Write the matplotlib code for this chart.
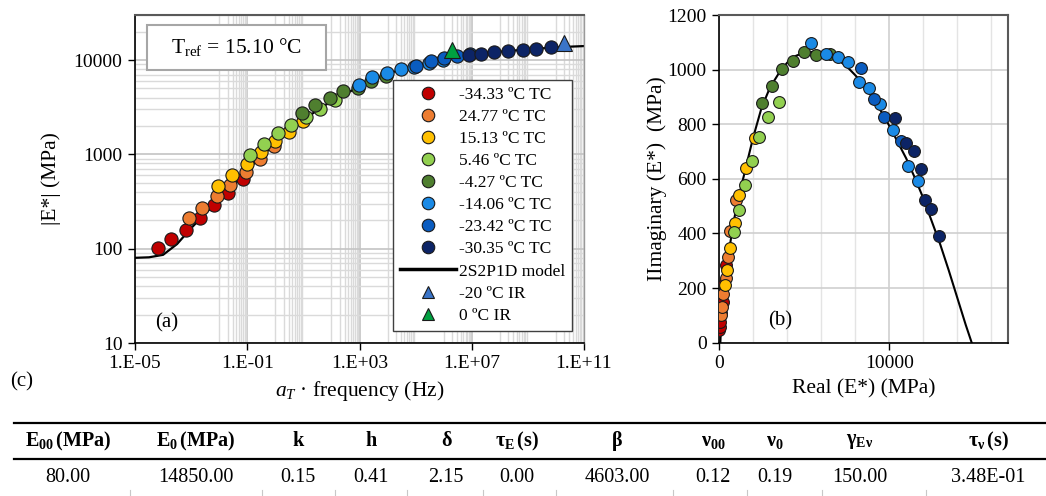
import numpy as np
import matplotlib
matplotlib.use('Agg')
import matplotlib.pyplot as plt
from matplotlib.lines import Line2D
from matplotlib.patches import Rectangle
from matplotlib.ticker import FixedLocator, LogLocator, NullFormatter, MultipleLocator

plt.rcParams['font.family'] = ['Liberation Serif', 'DejaVu Serif']
plt.rcParams['mathtext.fontset'] = 'custom'
plt.rcParams['mathtext.rm'] = 'Liberation Serif'
plt.rcParams['mathtext.it'] = 'Liberation Serif:italic'
plt.rcParams['mathtext.bf'] = 'Liberation Serif:bold'

# ---- data: master curve (reduced frequency in Hz, |E*| in MPa) ----
series_labels = ['-34.33 ºC TC', '24.77 ºC TC', '15.13 ºC TC', '5.46 ºC TC',
                 '-4.27 ºC TC', '-14.06 ºC TC', '-23.42 ºC TC', '-30.35 ºC TC']
series_colors = ['#c00000', '#ed7d31', '#ffc000', '#92d050',
                 '#4f7f2f', '#1a8ae6', '#0a5cc0', '#0c2466']

f_m34 = [6.8e-5, 1.95e-4, 6.5e-4, 2.0e-3, 6.6e-3, 2.05e-2, 6.8e-2]
e_m34 = [102, 127, 159, 209, 287, 391, 542]
f_p25 = [8.5e-4, 2.45e-3, 8.5e-3, 2.45e-2, 8.9e-2, 0.29, 0.91]
e_p25 = [209, 268, 360, 476, 655, 885, 1225]
f_p15 = [9.4e-3, 2.9e-2, 9.8e-2, 0.31, 0.96, 3.0, 9.8]
e_p15 = [457, 598, 798, 1050, 1399, 1743, 2261]
f_p5 = [0.128, 0.38, 1.25, 3.7, 12.8, 40.5, 139]
e_p5 = [984, 1300, 1673, 2070, 2518, 3048, 3727]
f_m4 = [9.0, 26.8, 90, 258, 850, 2470, 8500]
e_m4 = [2730, 3297, 3990, 4660, 5060, 6025, 6810]
f_m14 = [944, 2840, 9200, 29100, 9.1e4, 2.9e5, 9.1e5]
e_m14 = [5487, 6546, 7310, 8020, 8450, 9350, 10100]
f_m23 = [1.0e5, 3.45e5, 1.02e6, 3.1e6, 8.9e6]
e_m23 = [8690, 9680, 10420, 11120, 11500]
f_m30 = [7.9e6, 2.1e7, 6.3e7, 1.9e8, 6.5e8, 1.95e9, 6.6e9]
e_m30 = [11370, 11580, 12080, 12380, 12770, 13080, 13650]

f_ir_m20 = [1.98e10]
e_ir_m20 = [15100]
f_ir_0 = [2.05e6]
e_ir_0 = [12900]

# 2S2P1D model curve
f_model = [1e-5, 3.16e-5, 1e-4, 3.16e-4, 1e-3, 3.16e-3, 1e-2, 3.16e-2, 0.1, 0.316,
           1, 3.16, 10, 31.6, 100, 316, 1e3, 3.16e3, 1e4, 3.16e4, 1e5, 3.16e5,
           1e6, 3.16e6, 1e7, 3.16e7, 1e8, 3.16e8, 1e9, 3.16e9, 1e10, 3.16e10, 1e11]
e_model = [80, 81, 86, 112, 165, 235, 330, 470, 680, 950, 1300, 1750, 2300,
           2950, 3650, 4400, 5200, 6200, 7150, 7950, 8700, 9500, 10300, 11000,
           11500, 11900, 12250, 12600, 12950, 13300, 13600, 13850, 14050]

# ---- data: Cole-Cole (real / imaginary part of E*, MPa) ----
re_m34 = [18, 30, 59, 120, 217, 300, 393]
im_m34 = [46, 56, 75, 108, 150, 215, 285]
re_p25 = [100, 158, 252, 411, 546, 646, 1010]
im_p25 = [100, 132, 180, 237, 315, 408, 522]
re_p15 = [352, 487, 646, 920, 1200, 1610, 2114]
im_p15 = [211, 268, 348, 438, 541, 639, 749]
re_p5 = [870, 1174, 1500, 1940, 2349, 2895, 3523]
im_p5 = [405, 485, 577, 664, 754, 828, 880]
re_m4 = [2507, 3094, 3717, 4363, 5010, 5678, 6518]
im_m4 = [879, 940, 1001, 1033, 1063, 1054, 1057]
re_m14 = [5402, 6265, 6970, 7593, 8221, 8808, 9454, 10235, 11116, 11668]
im_m14 = [1096, 1057, 1045, 1027, 954, 932, 874, 779, 647, 593]
re_m23 = [8320, 9120, 9707, 10687]
im_m23 = [1007, 892, 828, 740]
re_m30 = [10335, 10963, 11450, 11844, 12096, 12449, 12937]
im_m30 = [824, 730, 702, 636, 522, 490, 391]

re_model = [80, 120, 200, 350, 550, 750, 1000, 1300, 1650, 2000, 2500, 3000,
            3500, 4000, 4500, 5000, 5500, 6000, 6500, 7000, 7500, 8000, 8500,
            9000, 9500, 10000, 10500, 11000, 11500, 12000, 12500, 13000, 13500,
            14000, 14500, 14850]
im_model = [0, 60, 140, 230, 320, 400, 490, 570, 660, 750, 860, 935, 985,
            1025, 1050, 1062, 1065, 1060, 1050, 1035, 1012, 980, 945, 900, 850,
            795, 735, 675, 605, 530, 445, 360, 265, 165, 65, 0]

# ---- data: 2S2P1D parameter table ----
table_headers = [r'$\mathbf{E_{00}}$$\,$(MPa)', r'$\mathbf{E_{0}}$$\,$(MPa)', 'k', 'h', 'δ',
                 r'$\mathbf{τ_{E}}$$\,$(s)', 'β', r'$\mathbf{ν_{00}}$', r'$\mathbf{ν_{0}}$',
                 r'$\mathbf{γ_{Eν}}$', r'$\mathbf{τ_{ν}}$$\,$(s)']
table_values = ['80.00', '14850.00', '0.15', '0.41', '2.15', '0.00', '4603.00',
                '0.12', '0.19', '150.00', '3.48E-01']

mc_freq = [f_m34, f_p25, f_p15, f_p5, f_m4, f_m14, f_m23, f_m30]
mc_mod = [e_m34, e_p25, e_p15, e_p5, e_m4, e_m14, e_m23, e_m30]
cc_re = [re_m34, re_p25, re_p15, re_p5, re_m4, re_m14, re_m23, re_m30]
cc_im = [im_m34, im_p25, im_p15, im_p5, im_m4, im_m14, im_m23, im_m30]

xtick_vals = [1e-5, 1e-1, 1e3, 1e7, 1e11]
xtick_labels = ['1.E-05', '1.E-01', '1.E+03', '1.E+07', '1.E+11']
ytick_vals = [10, 100, 1000, 10000]
ytick_labels = ['10', '100', '1000', '10000']

W, H = 1046, 496
fig = plt.figure(figsize=(W / 100, H / 100), dpi=100)

# ---------------- (a) master curve ----------------
ax = fig.add_axes([135 / W, 1 - 343 / H, 449 / W, 328 / H])
ax.set_xscale('log')
ax.set_yscale('log')
ax.set_xlim(1e-5, 1e11)
ax.set_ylim(10, 30000)

# Excel-style minor grid: clusters k*10^m for every other decade
minor_x = [k * 10.0 ** m for m in range(-2, 11, 2) for k in range(1, 10)]
ax.xaxis.set_minor_locator(FixedLocator(minor_x))
ax.xaxis.set_minor_formatter(NullFormatter())
ax.yaxis.set_minor_locator(LogLocator(base=10, subs=np.arange(2, 10)))
ax.yaxis.set_minor_formatter(NullFormatter())
ax.set_xticks(xtick_vals, labels=xtick_labels)
ax.set_yticks(ytick_vals, labels=ytick_labels)
ax.grid(which='minor', color='#dadada', lw=1.0)
ax.grid(which='major', color='#c4c4c4', lw=1.2)
ax.set_axisbelow(True)
ax.tick_params(which='minor', length=0)
ax.tick_params(which='major', direction='out', length=5, width=1, labelsize=14, pad=4)
for s in ['left', 'bottom']:
    ax.spines[s].set_color('black')
    ax.spines[s].set_linewidth(1.2)
ax.spines['top'].set_color('#595959')
ax.spines['top'].set_linewidth(1.5)
ax.spines['right'].set_color('#9a9a9a')
ax.spines['right'].set_linewidth(1.0)

ax.plot(f_model, e_model, color='black', lw=1.6, zorder=2)
for fq, md, c in zip(mc_freq, mc_mod, series_colors):
    ax.plot(fq, md, 'o', ms=9.5, mfc=c, mec='#1a1a1a', mew=0.8, ls='none', zorder=3)
ax.plot(f_ir_0, e_ir_0, '^', ms=11, mfc='#00a040', mec='#1a1a1a', mew=0.8, zorder=4)
ax.plot(f_ir_m20, e_ir_m20, '^', ms=11, mfc='#3a74c8', mec='#1a1a1a', mew=0.8, zorder=4)

ax.set_ylabel('|E*| (MPa)', fontsize=15.5, labelpad=9)
ax.set_xlabel(r'$a_T$ · frequency (Hz)', fontsize=15.5, labelpad=5)

ax.add_patch(Rectangle((12 / 449, 273 / 328), 179 / 449, 45 / 328, transform=ax.transAxes,
                       facecolor='white', edgecolor='#a6a6a6', lw=1.5, zorder=5))
ax.text(101 / 449, 296 / 328, r'T$_{\rm ref}$ = 15.10 °C', transform=ax.transAxes,
        ha='center', va='center', fontsize=15.5, zorder=6)
ax.text(32 / 449, 20 / 328, '(a)', transform=ax.transAxes, ha='center', va='center',
        fontsize=15, zorder=6)

handles = [Line2D([], [], marker='o', ls='none', ms=9, mfc=c, mec='#1a1a1a', mew=0.8)
           for c in series_colors]
handles.append(Line2D([], [], color='black', lw=2.5))
handles.append(Line2D([], [], marker='^', ls='none', ms=9, mfc='#3a74c8', mec='#1a1a1a', mew=0.8))
handles.append(Line2D([], [], marker='^', ls='none', ms=9, mfc='#00a040', mec='#1a1a1a', mew=0.8))
leg_labels = series_labels + ['2S2P1D model', '-20 ºC IR', '0 ºC IR']
leg = ax.legend(handles, leg_labels, loc='upper left', bbox_to_anchor=(258 / 449, 263 / 328),
                borderaxespad=0, fontsize=12.5, frameon=True, fancybox=False,
                framealpha=1, edgecolor='#404040', handlelength=3.2, handletextpad=0.2,
                labelspacing=0.34, borderpad=0.4)
leg.get_frame().set_linewidth(1.0)
leg.set_zorder(7)

# ---------------- (b) Cole-Cole ----------------
bx = fig.add_axes([719 / W, 1 - 342.7 / H, 289.3 / W, 327.7 / H])
bx.set_xlim(0, 17000)
bx.set_ylim(0, 1200)
bx.set_xticks([0, 10000], labels=['0', '10000'])
bx.xaxis.set_minor_locator(MultipleLocator(2000))
bx.set_yticks(np.arange(0, 1201, 200))
bx.grid(which='major', axis='y', color='#cfcfcf', lw=1.2)
bx.grid(which='major', axis='x', color='#cfcfcf', lw=1.2)
bx.grid(which='minor', axis='x', color='#e4e4e4', lw=1.0)
bx.set_axisbelow(True)
bx.tick_params(which='minor', length=0)
bx.tick_params(which='major', direction='out', length=5, width=1, labelsize=14, pad=4)
for s in ['left', 'bottom']:
    bx.spines[s].set_color('black')
    bx.spines[s].set_linewidth(1.2)
for s in ['top', 'right']:
    bx.spines[s].set_color('#595959')
    bx.spines[s].set_linewidth(1.5)

bx.plot(re_model, im_model, color='black', lw=1.5, zorder=2)
for r, i, c in zip(cc_re, cc_im, series_colors):
    bx.plot(r, i, 'o', ms=8.5, mfc=c, mec='#1a1a1a', mew=0.8, ls='none', zorder=3)

bx.set_xlabel('Real (E*) (MPa)', fontsize=15.5, labelpad=5)
bx.set_ylabel('IImaginary (E*)  (MPa)', fontsize=15.5, labelpad=0)
bx.text(61 / 289.3, 22 / 327.7, '(b)', transform=bx.transAxes, ha='center', va='center',
        fontsize=15)

# ---------------- (c) parameter table ----------------
fig.text(22 / W, 1 - 382 / H, '(c)', ha='center', va='center', fontsize=15)
fig.add_artist(Line2D([14 / W, 1.0], [1 - 423 / H, 1 - 423 / H], color='black', lw=1.6))
fig.add_artist(Line2D([14 / W, 1.0], [1 - 459 / H, 1 - 459 / H], color='black', lw=1.6))
col_x = [68, 196, 298, 371, 446, 517, 617, 713, 775, 860, 988]
for cx, hd, val in zip(col_x, table_headers, table_values):
    fig.text(cx / W, 1 - 441 / H, hd, ha='center', va='center', fontsize=14.5,
             fontweight='bold')
    fig.text(cx / W, 1 - 477 / H, val, ha='center', va='center', fontsize=14.5)
for bxp in [130, 262, 335, 407, 483, 556, 673, 747, 822, 926]:
    fig.add_artist(Line2D([bxp / W, bxp / W], [0, 6 / H], color='#c8c8c8', lw=0.8))

fig.savefig('out.png', dpi=100)
